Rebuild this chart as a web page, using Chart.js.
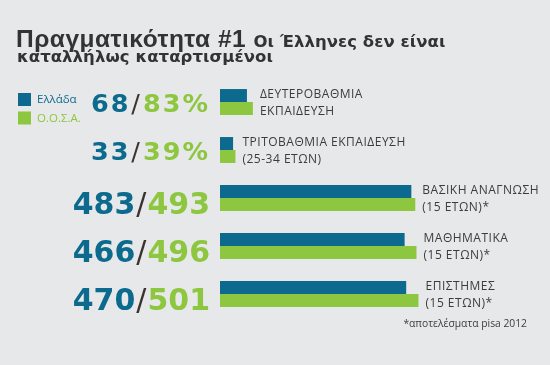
<!DOCTYPE html>
<html>
<head>
<meta charset="utf-8">
<script src="https://cdn.jsdelivr.net/npm/chart.js@4"></script>
<style>
  html, body { margin:0; padding:0; background:#e7e8e9; }
  #wrap { position:relative; width:550px; height:365px; overflow:hidden; background:#e7e8e9; }
  #c { position:absolute; left:0; top:0; }
  .t { position:absolute; white-space:nowrap; color:#333333; font-weight:bold; }
  .sub { font-family:"DejaVu Sans", sans-serif; font-size:16.5px; letter-spacing:0.05px; }
</style>
</head>
<body>
<div id="wrap">
  <canvas id="c" width="550" height="365"></canvas>
  <div class="t" style="left:16px; top:26.5px; font-size:24.5px; line-height:24px; letter-spacing:0.5px; font-family:'Liberation Sans', Arial, sans-serif;">Πραγματικότητα #1 <span class="sub">Οι Έλληνες δεν είναι</span></div>
  <div class="t sub" style="left:17px; top:48.5px; line-height:16px;">καταλλήλως καταρτισμένοι</div>
</div>
<script>
// ---- data ----
const categories = [
  ["ΔΕΥΤΕΡΟΒΑΘΜΙΑ", "ΕΚΠΑΙΔΕΥΣΗ"],
  ["ΤΡΙΤΟΒΑΘΜΙΑ ΕΚΠΑΙΔΕΥΣΗ", "(25-34 ΕΤΩΝ)"],
  ["ΒΑΣΙΚΗ ΑΝΑΓΝΩΣΗ", "(15 ΕΤΩΝ)*"],
  ["ΜΑΘΗΜΑΤΙΚΑ", "(15 ΕΤΩΝ)*"],
  ["ΕΠΙΣΤΗΜΕΣ", "(15 ΕΤΩΝ)*"]
];
const units = ["%", "%", "", "", ""];
const greece = [68, 33, 483, 466, 470];
const oecd = [83, 39, 493, 496, 501];
const seriesNames = ["Ελλάδα", "Ο.Ο.Σ.Α."];
const footnote = "*αποτελέσματα pisa 2012";

const BLUE = "#0b6a8d";
const GREEN = "#8dc63f";
const DARK = "#3b3330";

const labelPlugin = {
  id: "labels",
  afterDatasetsDraw(chart) {
    const ctx = chart.ctx;
    const xs = chart.scales.x, ys = chart.scales.y;
    ctx.save();
    categories.forEach((lines, i) => {
      const yc = ys.getPixelForValue(i);
      // category text right of bars
      const xEnd = xs.getPixelForValue(Math.max(greece[i], oecd[i])) + 7;
      ctx.fillStyle = "#3c3c3c";
      ctx.font = "12px 'Open Sans', 'Noto Sans', sans-serif";
      ctx.letterSpacing = "0.5px";
      ctx.textAlign = "left";
      ctx.textBaseline = "alphabetic";
      ctx.fillText(lines[0], xEnd, yc - 4);
      ctx.fillText(lines[1], xEnd, yc + 12.5);
      // big numbers left of bars
      const pct = units[i] === "%";
      const size = pct ? 25.5 : 30;
      ctx.letterSpacing = pct ? "2px" : "0px";
      const boldF = "bold " + size + "px 'DejaVu Sans', sans-serif";
      const normF = size + "px 'DejaVu Sans', sans-serif";
      let x = chart.chartArea.left - 10;
      const yb = yc + (pct ? 9.5 : 15.5);
      ctx.textAlign = "right";
      ctx.font = boldF;
      ctx.fillStyle = GREEN;
      const right = String(oecd[i]) + units[i];
      ctx.fillText(right, x, yb);
      x -= ctx.measureText(right).width + 1;
      ctx.font = normF;
      ctx.fillStyle = DARK;
      ctx.fillText("/", x, yb);
      x -= ctx.measureText("/").width + 1;
      ctx.font = boldF;
      ctx.fillStyle = BLUE;
      ctx.fillText(String(greece[i]), x, yb);
    });
    ctx.letterSpacing = "0px";
    // legend
    ctx.textAlign = "left";
    ctx.textBaseline = "middle";
    ctx.font = "11.5px 'Open Sans', 'Noto Sans', sans-serif";
    [BLUE, GREEN].forEach((c, k) => {
      const y = 93 + k * 18.5;
      ctx.fillStyle = c;
      ctx.fillRect(18, y, 13, 13);
      ctx.fillText(seriesNames[k], 37, y + 7);
    });
    // footnote
    ctx.textAlign = "right";
    ctx.textBaseline = "alphabetic";
    ctx.fillStyle = "#3c3c3c";
    ctx.font = "10.3px 'Open Sans', 'Noto Sans', sans-serif";
    ctx.fillText(footnote, 527, 327);
    ctx.restore();
  }
};

new Chart(document.getElementById("c"), {
  type: "bar",
  data: {
    labels: categories,
    datasets: [
      { label: seriesNames[0], data: greece, backgroundColor: BLUE },
      { label: seriesNames[1], data: oecd, backgroundColor: GREEN }
    ]
  },
  options: {
    indexAxis: "y",
    responsive: false,
    animation: false,
    devicePixelRatio: 1,
    layout: { padding: { left: 220, top: 78, bottom: 47, right: 0 } },
    datasets: { bar: { categoryPercentage: 0.54, barPercentage: 1.0, borderWidth: 0 } },
    scales: {
      x: { display: false, min: 0, max: 833 },
      y: { display: false }
    },
    plugins: { legend: { display: false }, tooltip: { enabled: false }, title: { display: false } }
  },
  plugins: [labelPlugin]
});
</script>
</body>
</html>
